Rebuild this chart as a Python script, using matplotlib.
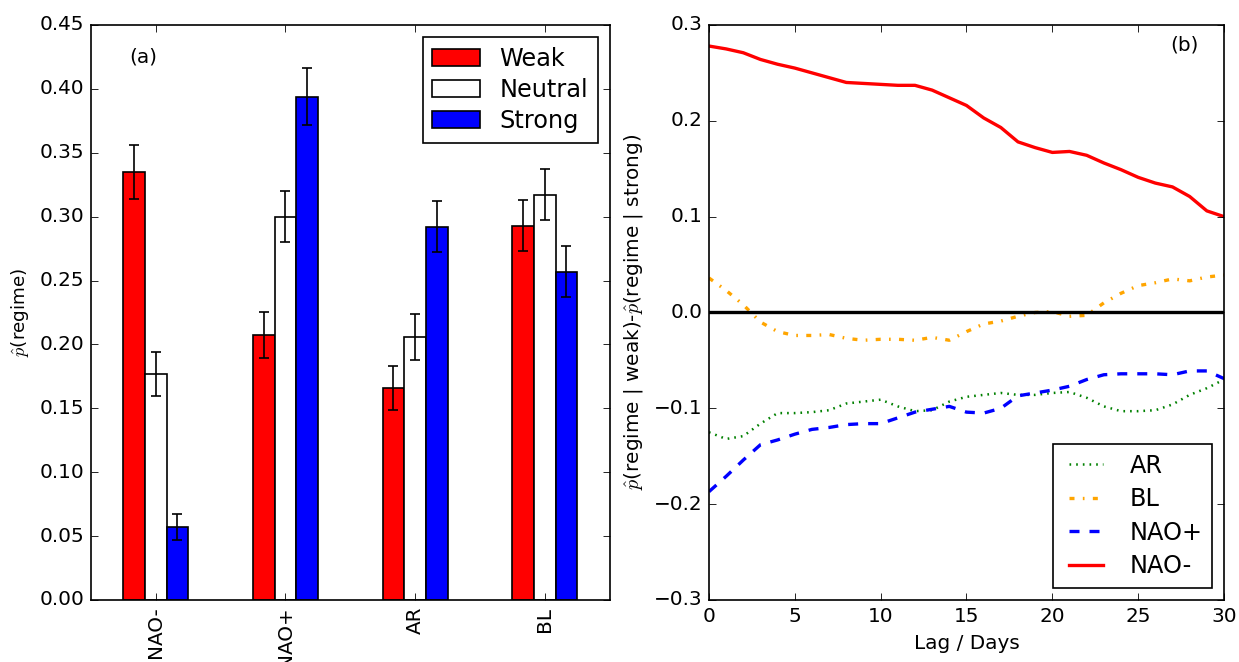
import numpy as np
import matplotlib
matplotlib.use("Agg")
import matplotlib.pyplot as plt

plt.style.use("classic")

# panel (a): regime probability by strength
regimes = ["NAO-", "NAO+", "AR", "BL"]
weak = [0.335, 0.207, 0.166, 0.293]
neutral = [0.177, 0.300, 0.206, 0.317]
strong = [0.057, 0.394, 0.292, 0.257]
weak_err = [0.021, 0.018, 0.017, 0.020]
neutral_err = [0.017, 0.020, 0.018, 0.020]
strong_err = [0.010, 0.022, 0.020, 0.020]

# panel (b): difference weak - strong vs lag
lag = np.arange(31)
diff_ar = [-0.125, -0.132, -0.129, -0.116, -0.105, -0.105, -0.104, -0.102, -0.095, -0.093,
           -0.091, -0.098, -0.103, -0.102, -0.093, -0.088, -0.086, -0.084, -0.086, -0.086,
           -0.084, -0.083, -0.089, -0.098, -0.103, -0.103, -0.102, -0.096, -0.086, -0.079, -0.070]
diff_bl = [0.036, 0.023, 0.008, -0.010, -0.020, -0.024, -0.024, -0.023, -0.027, -0.029,
           -0.028, -0.028, -0.029, -0.026, -0.029, -0.020, -0.012, -0.009, -0.004, 0.000,
           0.001, -0.004, -0.003, 0.010, 0.020, 0.028, 0.031, 0.035, 0.033, 0.037, 0.039]
diff_naop = [-0.187, -0.171, -0.154, -0.138, -0.133, -0.127, -0.122, -0.120, -0.117, -0.116,
             -0.116, -0.110, -0.104, -0.101, -0.098, -0.104, -0.105, -0.100, -0.087, -0.084,
             -0.081, -0.077, -0.070, -0.065, -0.064, -0.064, -0.064, -0.065, -0.061, -0.061, -0.069]
diff_naom = [0.278, 0.275, 0.271, 0.264, 0.259, 0.255, 0.250, 0.245, 0.240, 0.239,
             0.238, 0.237, 0.237, 0.232, 0.224, 0.216, 0.203, 0.193, 0.178, 0.172,
             0.167, 0.168, 0.164, 0.156, 0.149, 0.141, 0.135, 0.131, 0.121, 0.106, 0.100]

fig = plt.figure(figsize=(1239 / 120, 662 / 120), dpi=120, facecolor="white")
ax1 = fig.add_axes([0.0734, 0.0937, 0.4186, 0.8686])
ax2 = fig.add_axes([0.5722, 0.0937, 0.4157, 0.8686])

x = np.arange(len(regimes))
w = 0.5 / 3
ekw = dict(ecolor="black", capsize=3, elinewidth=1, capthick=1)
ax1.bar(x - w, weak, w, yerr=weak_err, color="red", edgecolor="black", label="Weak", error_kw=ekw)
ax1.bar(x, neutral, w, yerr=neutral_err, color="white", edgecolor="black", label="Neutral", error_kw=ekw)
ax1.bar(x + w, strong, w, yerr=strong_err, color="blue", edgecolor="black", label="Strong", error_kw=ekw)
ax1.set_xlim(-0.5, 3.5)
ax1.set_ylim(0, 0.45)
ax1.set_yticks(np.arange(0, 0.451, 0.05))
ax1.set_xticks(x)
ax1.set_xticklabels(regimes, rotation=90)
ax1.set_ylabel(r"$\hat{p}$(regime)", fontsize=11)
ax1.text(0.1, 0.944, "(a)", transform=ax1.transAxes, ha="center", va="center", fontsize=12)
ax1.legend(loc="upper right", fontsize="large", handlelength=2, labelspacing=0.3)

ax2.plot(lag, diff_ar, color="green", linestyle=":", linewidth=1.5, label="AR")
ax2.plot(lag, diff_bl, color="orange", linestyle="-.", linewidth=2, label="BL")
ax2.plot(lag, diff_naop, color="blue", linestyle="--", linewidth=2, label="NAO+")
ax2.plot(lag, diff_naom, color="red", linestyle="-", linewidth=2, label="NAO-")
ax2.axhline(0, color="black", linewidth=2)
ax2.set_xlim(0, 30)
ax2.set_ylim(-0.3, 0.3)
ax2.set_xlabel("Lag / Days", fontsize=12)
ax2.set_ylabel(r"$\hat{p}$(regime | weak)-$\hat{p}$(regime | strong)", fontsize=12)
ax2.text(0.924, 0.965, "(b)", transform=ax2.transAxes, ha="center", va="center", fontsize=12)
ax2.legend(loc="lower right", fontsize="large", handlelength=2, labelspacing=0.4)

fig.savefig("out.png", dpi=120, facecolor="white")
